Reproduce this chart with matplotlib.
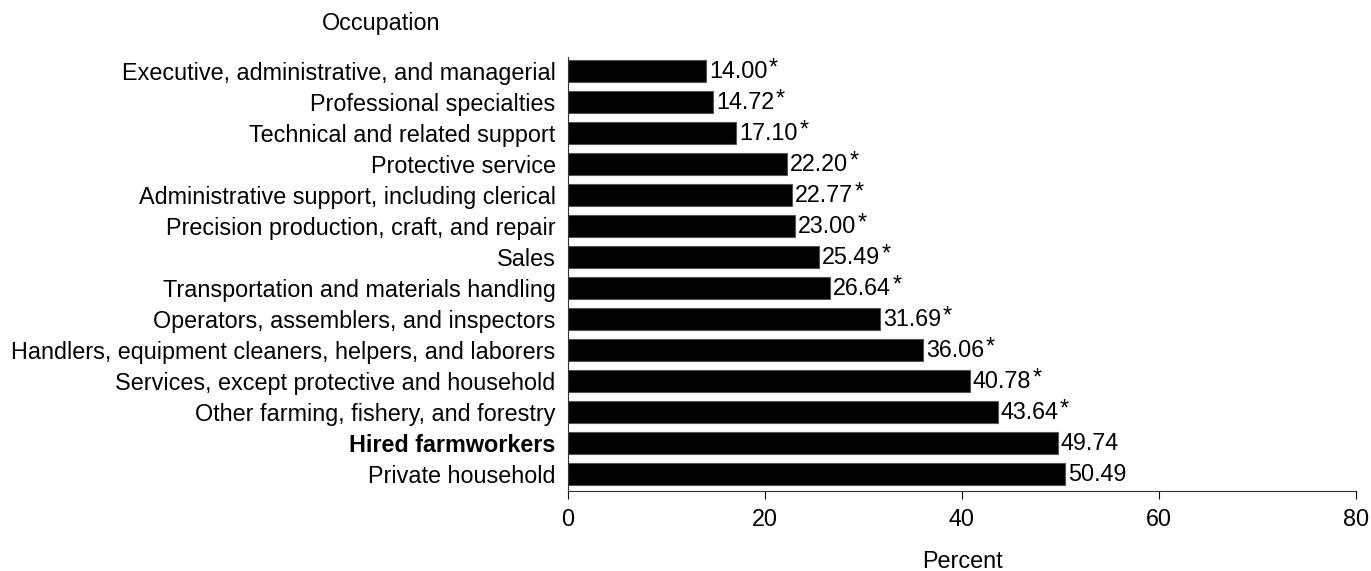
import numpy as np
import matplotlib
matplotlib.use('Agg')
import matplotlib.pyplot as plt

plt.rcParams['font.family'] = ['Liberation Sans', 'DejaVu Sans']

occupations = [
    'Executive, administrative, and managerial',
    'Professional specialties',
    'Technical and related support',
    'Protective service',
    'Administrative support, including clerical',
    'Precision production, craft, and repair',
    'Sales',
    'Transportation and materials handling',
    'Operators, assemblers, and inspectors',
    'Handlers, equipment cleaners, helpers, and laborers',
    'Services, except protective and household',
    'Other farming, fishery, and forestry',
    'Hired farmworkers',
    'Private household',
]
percent = [14.00, 14.72, 17.10, 22.20, 22.77, 23.00, 25.49, 26.64,
           31.69, 36.06, 40.78, 43.64, 49.74, 50.49]
significant = [True] * 12 + [False, False]
xticks = [0, 20, 40, 60, 80]

fs = 16.8

fig = plt.figure(figsize=(13.71, 5.71), dpi=100)
ax = fig.add_axes([0.4143, 0.14, 0.5747, 0.76])

y = np.arange(len(occupations))
ax.barh(y, percent, height=0.7, color='black', edgecolor='#555555', linewidth=0.8)
ax.set_ylim(len(occupations) - 0.45, -0.45)
ax.set_xlim(0, 80)

for yi, v, s in zip(y, percent, significant):
    txt = ax.text(v + 0.3, yi, '%.2f' % v, va='center', ha='left', fontsize=fs)
    if s:
        # asterisk marks a significant difference, sits a bit raised
        ax.annotate('*', xy=(1, 0.5), xycoords=txt, xytext=(1, 2),
                    textcoords='offset points', ha='left', va='center',
                    fontsize=fs)

ax.set_yticks(y)
ax.set_yticklabels(occupations, fontsize=fs)
for t, name in zip(ax.get_yticklabels(), occupations):
    if name == 'Hired farmworkers':
        t.set_fontweight('bold')
ax.tick_params(axis='y', length=0, pad=9)
ax.set_xticks(xticks)
ax.tick_params(axis='x', direction='out', length=6, labelsize=fs, pad=6)
ax.set_xlabel('Percent', fontsize=fs, labelpad=14)

for side in ['top', 'right']:
    ax.spines[side].set_visible(False)
ax.spines['left'].set_color('#333333')
ax.spines['bottom'].set_color('#333333')

fig.text(0.278, 0.958, 'Occupation', ha='center', va='center', fontsize=fs)

fig.savefig('out.png', dpi=100)
